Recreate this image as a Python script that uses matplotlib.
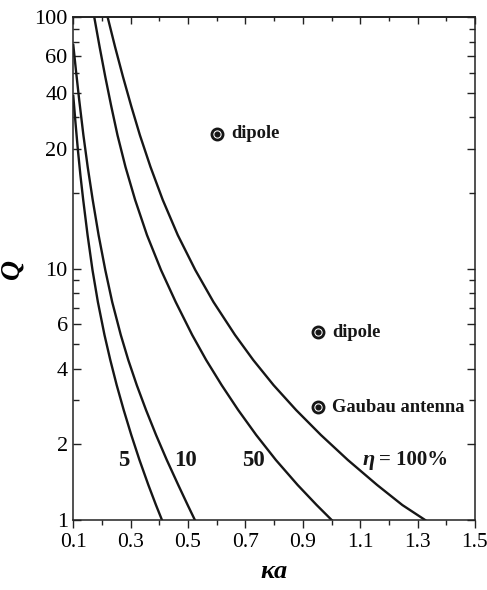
import matplotlib
matplotlib.use("Agg")
import matplotlib.pyplot as plt
from matplotlib.ticker import FixedLocator, NullFormatter

plt.rcParams["font.family"] = ["Liberation Serif", "DejaVu Serif"]

# curves: ka and Q for each efficiency
ka_5 = [0.1000, 0.1077, 0.1160, 0.1247, 0.1345, 0.1498, 0.1669, 0.1857, 0.2087,
        0.2290, 0.2513, 0.2757, 0.3021, 0.3307, 0.3617, 0.3882, 0.4091]
q_5 = [48.6, 38.0, 29.7, 23.6, 18.8, 13.6, 9.88, 7.37, 5.45,
       4.33, 3.44, 2.74, 2.18, 1.733, 1.378, 1.147, 1.0]

ka_10 = [0.1000, 0.1091, 0.1206, 0.1352, 0.1502, 0.1676, 0.1882, 0.2115, 0.2356,
         0.2655, 0.2917, 0.3213, 0.3535, 0.3884, 0.4259, 0.4659, 0.4987, 0.5238]
q_10 = [77.6, 61.7, 46.9, 34.0, 25.4, 18.8, 13.6, 9.88, 7.37,
        5.45, 4.33, 3.44, 2.74, 2.18, 1.733, 1.378, 1.147, 1.0]

ka_50 = [0.1732, 0.1918, 0.2115, 0.2321, 0.2540, 0.2819, 0.3154, 0.3569, 0.4057, 0.4569,
         0.5144, 0.5632, 0.6172, 0.6747, 0.7374, 0.8061, 0.8821, 0.9483, 1.0006]
q_50 = [100, 76.2, 58.0, 44.4, 34.0, 25.4, 18.8, 13.6, 9.88, 7.37,
        5.45, 4.33, 3.44, 2.74, 2.18, 1.733, 1.378, 1.147, 1.0]

ka_100 = [0.2199, 0.2457, 0.2732, 0.3018, 0.3321, 0.3691, 0.4116, 0.4642, 0.5252, 0.5886,
          0.6636, 0.7273, 0.7981, 0.8765, 0.9629, 1.0570, 1.1592, 1.2470, 1.3264]
q_100 = [100, 76.2, 58.0, 44.4, 34.0, 25.4, 18.8, 13.6, 9.88, 7.37,
         5.45, 4.33, 3.44, 2.74, 2.18, 1.733, 1.378, 1.147, 1.0]

curve_labels = ["5", "10", "50"]
curve_label_ka = [0.275, 0.49, 0.728]
curve_label_q = 1.73

point_names = ["dipole", "dipole", "Gaubau antenna"]
point_ka = [0.601, 0.953, 0.953]
point_q = [34.5, 5.58, 2.81]

# the printed labels of the upper decade sit on 30, 50 and 70
ytick_pos = [1, 2, 4, 6, 10, 30, 50, 70, 100]
ytick_lab = ["1", "2", "4", "6", "10", "20", "40", "60", "100"]
yminor_pos = [3, 5, 7, 8, 9, 20, 40, 60, 80, 90]
xtick_pos = [0.1, 0.3, 0.5, 0.7, 0.9, 1.1, 1.3, 1.5]
xminor_pos = [0.2, 0.4, 0.6, 0.8, 1.0, 1.2, 1.4]

ink = "#161616"

fig = plt.figure(figsize=(4.87, 5.9), dpi=100)
ax = fig.add_axes([0.1505, 0.1186, 0.8248, 0.852])

for ka, q in [(ka_5, q_5), (ka_10, q_10), (ka_50, q_50), (ka_100, q_100)]:
    ax.plot(ka, q, color=ink, lw=1.7, solid_joinstyle="round")

ax.set_yscale("log")
ax.set_xlim(0.1, 1.5)
ax.set_ylim(1, 100)

ax.yaxis.set_major_locator(FixedLocator(ytick_pos))
ax.yaxis.set_minor_locator(FixedLocator(yminor_pos))
ax.set_yticklabels(ytick_lab)
ax.yaxis.set_minor_formatter(NullFormatter())
ax.set_xticks(xtick_pos)
ax.set_xticklabels([f"{v:.1f}" for v in xtick_pos])
ax.xaxis.set_minor_locator(FixedLocator(xminor_pos))

for s in ax.spines.values():
    s.set_linewidth(1.1)
    s.set_color("#222222")

ax.tick_params(axis="y", which="both", direction="in", left=True, right=True,
               labelsize=16, pad=4, width=1.0, color="#222222")
ax.tick_params(axis="y", which="major", length=6)
ax.tick_params(axis="y", which="minor", length=4)
ax.tick_params(axis="x", which="both", direction="out", bottom=True, top=False,
               labelsize=15.5, pad=3, width=1.0, color="#222222")
ax.tick_params(axis="x", which="major", length=6)
ax.tick_params(axis="x", which="minor", length=3.5)

# top ticks point inward, drawn on a secondary axis
top = ax.secondary_xaxis("top")
top.set_xticks(xtick_pos)
top.xaxis.set_minor_locator(FixedLocator(xminor_pos))
top.tick_params(axis="x", which="both", direction="in", labeltop=False, width=1.0, color="#222222")
top.tick_params(axis="x", which="major", length=5)
top.tick_params(axis="x", which="minor", length=3)
top.spines["top"].set_linewidth(1.1)

ax.set_xlabel("κa", fontsize=19, fontweight="bold", fontstyle="italic", labelpad=6)
ax.set_ylabel("Q", fontsize=20, fontweight="bold", fontstyle="italic", labelpad=7)

for lab, x in zip(curve_labels, curve_label_ka):
    ax.text(x, curve_label_q, lab, fontsize=16.5, fontweight="bold", ha="center", va="center", color=ink)
ax.text(1.15, curve_label_q, "η", fontsize=16, fontweight="bold", fontstyle="italic",
        ha="right", va="center", color=ink)
ax.text(1.165, curve_label_q, "= 100%", fontsize=15, fontweight="bold", ha="left", va="center", color=ink)

for name, x, q in zip(point_names, point_ka, point_q):
    ax.plot(x, q, marker="o", ms=8, mfc="white", mec=ink, mew=2.0, ls="none")
    ax.plot(x, q, marker="o", ms=3.4, mfc=ink, mec=ink, ls="none")
    ax.text(x + 0.048, q, name, fontsize=13.3, fontweight="bold", ha="left", va="center", color=ink)

fig.savefig("out.png", dpi=100)
